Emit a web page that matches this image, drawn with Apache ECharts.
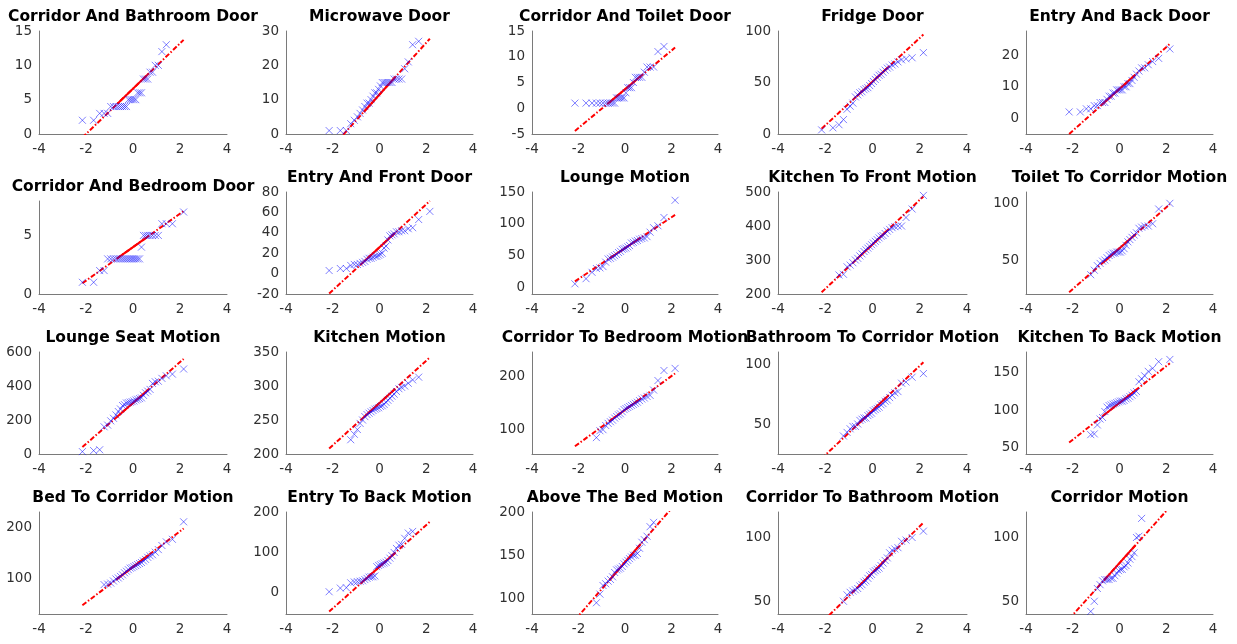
<!DOCTYPE html>
<html>
<head>
<meta charset="utf-8">
<script src="https://cdn.jsdelivr.net/npm/echarts@6/dist/echarts.min.js"></script>
<style>html,body{margin:0;padding:0;background:#fff}#chart{width:1237px;height:644px}</style>
</head>
<body>
<div id="chart"></div>
<script>
// ---------------- DATA ----------------
const titles = [
  'Corridor And Bathroom Door', 'Microwave Door', 'Corridor And Toilet Door', 'Fridge Door', 'Entry And Back Door',
  'Corridor And Bedroom Door', 'Entry And Front Door', 'Lounge Motion', 'Kitchen To Front Motion', 'Toilet To Corridor Motion',
  'Lounge Seat Motion', 'Kitchen Motion', 'Corridor To Bedroom Motion', 'Bathroom To Corridor Motion', 'Kitchen To Back Motion',
  'Bed To Corridor Motion', 'Entry To Back Motion', 'Above The Bed Motion', 'Corridor To Bathroom Motion', 'Corridor Motion'
];

// standard normal quantiles (x positions of the sample points)
const quantiles = [-2.154,-1.676,-1.418,-1.230,-1.078,-0.947,-0.831,-0.725,-0.626,-0.534,-0.445,-0.360,-0.278,-0.197,-0.118,-0.039,
                   0.039,0.118,0.197,0.278,0.360,0.445,0.534,0.626,0.725,0.831,0.947,1.078,1.230,1.418,1.676,2.154];

// sorted sample values (null = outside the plotted y range)
const corridorBathroomDoor = [2,2,3,3,3,4,4,4,4,4,4,4,4,5,5,5,5,5,6,6,6,8,8,8,9,9,10,10,12,13,null,null];
const microwaveDoor        = [1,1,1,3,4,5,6,7,8,9,9,10,11,12,12,13,14,15,15,15,15,15,15,16,16,16,16,19,21,26,27,null];
const corridorToiletDoor   = [1,1,1,1,1,1,1,1,1,1,1,2,2,2,2,2,3,4,4,4,5,6,6,6,6,7,8,8,8,11,12,null];
const fridgeDoor           = [4,6,9,14,24,27,30,36,38,40,41,43,44,45,47,49,51,53,55,57,58,60,62,64,65,67,68,70,72,73,74,79];
const entryBackDoor        = [2,2,3,3,4,4,5,5,5,6,7,7,8,8,9,9,9,9,10,10,11,11,12,13,14,15,16,16,17,18,19,22];
const corridorBedroomDoor  = [1,1,2,2,3,3,3,3,3,3,3,3,3,3,3,3,3,3,3,3,4,5,5,5,5,5,5,5,6,6,6,7];
const entryFrontDoor       = [3,5,5,8,9,9,10,11,12,14,15,15,16,17,17,18,19,20,25,27,33,37,38,39,41,41,42,42,44,45,53,61];
const loungeMotion         = [6,14,24,30,31,33,40,45,46,48,50,52,55,57,60,61,62,64,66,70,71,73,74,76,77,78,80,87,94,97,110,137];
const kitchenToFront       = [null,null,256,258,280,285,292,300,305,312,318,325,330,335,340,345,350,355,360,365,370,372,378,385,390,395,398,400,400,425,450,490];
const toiletToCorridor     = [null,null,null,37,41,45,47,49,50,52,54,55,56,56,57,57,57,58,60,63,66,68,70,72,74,78,79,80,80,82,95,100];
const loungeSeatMotion     = [14,20,25,160,170,195,210,230,250,265,285,290,300,302,305,308,312,318,322,326,330,345,360,370,380,415,425,428,445,460,470,500];
const kitchenMotion        = [null,null,null,221,229,236,245,250,255,258,260,262,264,266,267,268,270,271,273,276,279,282,285,288,292,296,298,300,304,309,313,null];
const corridorToBedroom    = [null,null,null,85,98,100,108,112,115,118,122,125,128,130,134,138,140,142,144,146,148,150,152,155,158,160,163,165,175,193,212,216];
const bathroomToCorridor   = [null,null,null,40,43,46,48,48,50,53,54,55,55,57,58,59,61,62,63,64,66,67,69,70,72,74,76,77,84,85,89,92];
const kitchenToBack        = [null,null,null,67,68,80,88,90,98,104,106,107,108,109,110,111,112,112,113,115,116,118,120,123,125,138,142,146,152,156,165,168];
const bedToCorridor        = [null,null,null,89,90,92,96,100,102,105,108,112,115,118,121,122,124,126,128,130,132,135,138,142,145,147,152,157,165,172,177,211];
const entryToBack          = [3,12,13,25,27,28,29,30,33,36,39,40,40,42,65,68,70,72,74,76,80,86,92,100,110,118,120,135,148,152,null,null];
const aboveTheBed          = [null,null,null,95,105,115,117,120,122,125,130,133,134,135,137,140,142,144,146,148,150,150,152,158,165,168,172,183,188,null,null,null];
const corridorToBathroom   = [null,null,null,50,55,57,58,59,60,62,63,65,66,68,70,71,73,74,75,76,78,80,82,84,88,90,91,92,97,98,100,105];
const corridorMotion       = [null,null,null,42,50,60,63,66,67,67,67,68,68,70,72,74,75,75,77,78,80,83,85,88,100,101,115,null,null,null,null,null];

const samples = [corridorBathroomDoor, microwaveDoor, corridorToiletDoor, fridgeDoor, entryBackDoor,
  corridorBedroomDoor, entryFrontDoor, loungeMotion, kitchenToFront, toiletToCorridor,
  loungeSeatMotion, kitchenMotion, corridorToBedroom, bathroomToCorridor, kitchenToBack,
  bedToCorridor, entryToBack, aboveTheBed, corridorToBathroom, corridorMotion];

// reference line: x at min, first quartile, third quartile, max
const refLineX = [-2.154, -0.674, 0.674, 2.154];
// reference line y values at those x positions, per panel
const refLineY = [
  [-0.51, 4.37, 8.83, 13.71], [-4.74, 6.41, 16.59, 27.74], [-4.42, 1.14, 6.22, 11.78], [5.1, 36.5, 65.1, 96.5], [-5.0, 4.82, 13.78, 23.6],
  [0.92, 3.04, 4.96, 7.08], [-19.6, 11.6, 40.0, 71.2], [9.9, 45.7, 78.3, 114.1], [205, 302, 390, 487], [21.6, 48.3, 72.5, 99.2],
  [41, 219, 381, 559], [208, 254, 296, 342], [68.6, 115.9, 159.1, 206.4], [21.2, 48.8, 73.8, 101.4], [56.4, 93, 126.3, 162.8],
  [48.9, 100.1, 146.7, 197.9], [-46.1, 30.1, 99.5, 175.7], [75, 121, 163, 209], [33.2, 60.1, 84.7, 111.6], [36.1, 66.2, 93.8, 123.9]
];

const yMin = [0, 0, -5, 0, -5,   0, -20, -10, 200, 20,   0, 200, 54, 25, 41,   32, -52, 82, 40, 40];
const yMax = [15, 30, 15, 100, 27.7,   7.94, 80, 150, 500, 110,   600, 350, 247, 110, 178,   230, 200, 200, 120, 120];
const yTicks = [
  [0,5,10,15], [0,10,20,30], [-5,0,5,10,15], [0,50,100], [0,10,20],
  [0,5], [-20,0,20,40,60,80], [0,50,100,150], [200,300,400,500], [50,100],
  [0,200,400,600], [200,250,300,350], [100,200], [50,100], [50,100,150],
  [100,200], [0,100,200], [100,150,200], [50,100], [50,100]
];
const xTicks = [-4, -2, 0, 2, 4];

// ---------------- LAYOUT ----------------
const colLeft = [39, 286, 532, 778, 1026];
const colWidth = [188, 187, 186, 189, 187];
const rowTop = [31, 192, 352, 512];
const rowHeight = [103, 102, 102, 102];

const labelColor = '#303030';
const lineColor = '#7a7a7a';
const grids = [], xAxes = [], yAxes = [], series = [], titleList = [];
const xMark = 'path://M0,0L10,10M10,0L0,10';

for (let i = 0; i < 20; i++) {
  const r = Math.floor(i / 5), c = i % 5;
  let top = rowTop[r], height = rowHeight[r];
  if (i === 5) { top = 201; height = 93; }
  const left = colLeft[c], width = colWidth[c];
  grids.push({ left: left, top: top, width: width, height: height, containLabel: false });
  titleList.push({
    text: titles[i], left: left + width / 2, top: top - 14.5 - 9, textAlign: 'center', padding: 0,
    textStyle: { fontFamily: 'DejaVu Sans', fontWeight: 'bold', fontSize: 15.5, color: '#000', lineHeight: 18 }
  });
  xAxes.push({
    gridIndex: i, type: 'value', min: xTicks[0], max: xTicks[xTicks.length - 1], interval: 2,
    axisLine: { show: true, onZero: false, lineStyle: { color: lineColor, width: 1 } },
    axisTick: { show: false }, splitLine: { show: false },
    axisLabel: { fontFamily: 'DejaVu Sans', fontSize: 13.5, color: labelColor, margin: 8, showMinLabel: true, showMaxLabel: true }
  });
  yAxes.push({
    gridIndex: i, type: 'value', min: yMin[i], max: yMax[i],
    axisLine: { show: true, onZero: false, lineStyle: { color: lineColor, width: 1 } },
    axisTick: { show: false, customValues: yTicks[i] }, splitLine: { show: false },
    axisLabel: { fontFamily: 'DejaVu Sans', fontSize: 13.5, color: labelColor, margin: 7, customValues: yTicks[i] }
  });
  const ly = refLineY[i];
  series.push({
    type: 'line', xAxisIndex: i, yAxisIndex: i, symbol: 'none', silent: true, clip: true, z: 2,
    data: [[refLineX[1], ly[1]], [refLineX[2], ly[2]]],
    lineStyle: { color: '#ff0000', width: 2, type: 'solid' }
  });
  series.push({
    type: 'line', xAxisIndex: i, yAxisIndex: i, symbol: 'none', silent: true, clip: true, z: 2,
    data: [[refLineX[0], ly[0]], [refLineX[3], ly[3]]],
    lineStyle: { color: '#ff0000', width: 2, type: [5, 2, 1.5, 2] }
  });
  const pts = [];
  samples[i].forEach((v, k) => { if (v !== null) pts.push([quantiles[k], v]); });
  series.push({
    type: 'scatter', xAxisIndex: i, yAxisIndex: i, data: pts, symbol: xMark, symbolSize: 7,
    itemStyle: { color: 'rgba(0,0,0,0)', borderColor: 'rgba(10,10,255,0.65)', borderWidth: 1 },
    clip: true, silent: true, z: 4
  });
}

const chart = echarts.init(document.getElementById('chart'));
chart.setOption({
  animation: false,
  backgroundColor: '#fff',
  title: titleList,
  grid: grids,
  xAxis: xAxes,
  yAxis: yAxes,
  series: series
});
</script>
</body>
</html>
